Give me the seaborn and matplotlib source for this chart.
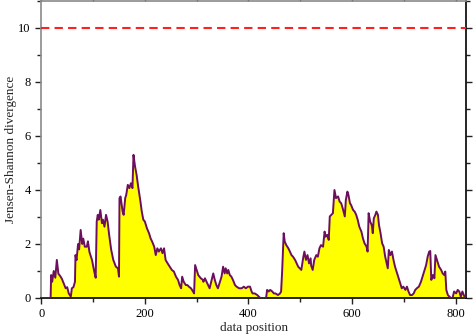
import matplotlib
matplotlib.use("Agg")
import matplotlib.pyplot as plt
import seaborn as sns
import pandas as pd
from matplotlib.ticker import MultipleLocator

position = [0, 18, 19, 21, 24, 27, 30, 33, 37, 40, 44, 47, 50, 53, 57, 59, 62, 65, 66, 68,
            71, 73, 76, 79, 81, 84, 88, 90, 93, 98, 102, 105, 107, 109, 111, 114, 117, 119, 122, 125,
            128, 131, 135, 139, 144, 148, 150, 151, 153, 157, 159, 162, 164, 167, 170, 173, 176, 178, 181, 184,
            187, 191, 194, 197, 200, 204, 208, 211, 214, 218, 221, 224, 227, 231, 234, 237, 240, 244, 248, 252,
            256, 260, 264, 267, 270, 272, 275, 279, 282, 285, 289, 293, 295, 297, 300, 303, 308, 312, 313, 316,
            319, 322, 325, 329, 332, 335, 338, 341, 345, 348, 351, 354, 356, 359, 361, 364, 367, 370, 374, 377,
            382, 387, 391, 395, 399, 403, 406, 408, 412, 417, 420, 423, 430, 434, 436, 439, 442, 446, 449, 452,
            457, 461, 463, 465, 468, 470, 473, 477, 480, 483, 486, 490, 493, 496, 499, 502, 506, 508, 511, 514,
            517, 520, 521, 524, 527, 531, 534, 537, 540, 544, 547, 549, 552, 555, 557, 560, 563, 566, 569, 573,
            576, 579, 582, 586, 588, 591, 593, 596, 598, 602, 605, 608, 611, 614, 618, 621, 624, 628, 630, 632,
            635, 638, 640, 642, 645, 647, 650, 652, 655, 658, 661, 664, 667, 669, 671, 674, 677, 680, 683, 687,
            690, 693, 696, 699, 703, 706, 709, 712, 716, 719, 722, 725, 729, 733, 736, 739, 743, 746, 749, 751,
            753, 756, 759, 761, 763, 766, 768, 772, 775, 778, 780, 782, 785, 788, 791, 794, 797, 801, 804, 807,
            810, 813, 817, 819]
divergence = [0, 0, 0.85, 0.6, 1.0, 0.75, 1.41, 0.9, 0.8, 0.7, 0.5, 0.36, 0.4, 0.17, 0.05, 0.36, 0.4, 0.6, 1.59, 1.4,
              2.0, 1.8, 2.52, 2.0, 2.2, 1.9, 1.9, 2.1, 1.7, 1.4, 1.0, 0.75, 2.83, 3.08, 2.9, 3.26, 2.77, 2.9, 2.64, 3.08,
              2.83, 2.34, 1.78, 1.41, 1.16, 1.1, 0.79, 3.7, 3.76, 3.2, 3.08, 3.7, 3.82, 4.19, 4.07, 4.25, 4.07, 5.3, 4.87, 4.56,
              4.13, 3.63, 3.2, 2.9, 2.83, 2.58, 2.4, 2.21, 2.09, 1.9, 1.59, 1.84, 1.72, 1.84, 1.66, 1.84, 1.41, 1.28, 1.16, 1.04,
              0.98, 0.79, 0.67, 0.48, 0.36, 0.79, 0.6, 0.48, 0.48, 0.42, 0.36, 0.24, 0.17, 1.22, 1.04, 0.85, 0.73, 0.67, 0.6, 0.73,
              0.6, 0.48, 0.36, 0.67, 0.91, 0.67, 0.48, 0.36, 0.6, 0.79, 1.16, 0.91, 1.1, 0.91, 1.04, 0.85, 0.79, 0.67, 0.48, 0.42,
              0.36, 0.36, 0.42, 0.36, 0.42, 0.42, 0.24, 0.17, 0.17, 0.11, 0.05, 0, 0, 0, 0.3, 0.24, 0.3, 0.24, 0.17, 0.17,
              0.11, 0.17, 0.24, 0.98, 2.4, 2.09, 1.96, 1.84, 1.72, 1.59, 1.53, 1.41, 1.28, 1.16, 1.1, 1.04, 1.53, 1.72, 1.41, 1.59,
              1.28, 1.47, 1.2, 1.04, 1.41, 1.59, 1.53, 1.84, 1.96, 1.9, 2.46, 2.27, 2.34, 2.15, 3.02, 3.08, 3.14, 4.0, 3.7, 3.76,
              3.57, 3.51, 3.32, 3.02, 3.63, 3.94, 3.82, 3.51, 3.45, 3.26, 3.2, 3.08, 2.89, 2.64, 2.46, 2.21, 2.03, 1.9, 1.72, 3.14,
              2.83, 2.7, 2.4, 2.95, 3.08, 3.2, 3.08, 2.7, 2.4, 2.03, 1.9, 1.53, 1.28, 1.1, 1.78, 1.59, 1.72, 1.41, 1.16, 0.91,
              0.73, 0.54, 0.36, 0.42, 0.3, 0.42, 0.24, 0.11, 0.11, 0.17, 0.3, 0.36, 0.42, 0.6, 0.79, 0.98, 1.22, 1.53, 1.72, 1.74,
              0.67, 0.85, 0.73, 1.59, 1.47, 1.28, 1.16, 1.04, 0.91, 0.85, 0.98, 0.3, 0.11, 0.05, 0, 0, 0.24, 0.17, 0.3, 0.24,
              0.05, 0.24, 0.05, 0]
threshold = 10
x_ticks = [0, 200, 400, 600, 800]
y_ticks = [0, 2, 4, 6, 8, 10]

sns.set_theme(style="ticks")
plt.rcParams['font.family'] = ['Liberation Serif', 'DejaVu Serif']

df = pd.DataFrame({"position": position, "divergence": divergence})

fig = plt.figure(figsize=(4.76, 3.36), dpi=100)
ax = fig.add_axes([41.3 / 476, 1 - 298 / 336, (466 - 41.3) / 476, 297 / 336])

ax.fill_between(df["position"], 0, df["divergence"], color="#ffff00", linewidth=0, zorder=2)
sns.lineplot(data=df, x="position", y="divergence", ax=ax, color="#6b0f5e",
             linewidth=1.4, zorder=3, sort=False)
ax.axhline(threshold, color="#ff2020", linestyle=(0, (4, 2.5)), linewidth=1.5, zorder=4)

ax.set_xlim(0, 820)
ax.set_ylim(0, 11)
ax.set_xticks(x_ticks)
ax.set_yticks(y_ticks)
ax.xaxis.set_minor_locator(MultipleLocator(100))
ax.yaxis.set_minor_locator(MultipleLocator(1))
ax.tick_params(which="both", direction="out", top=True, right=True, labelsize=9,
               colors="#222222", labelcolor="black")
ax.tick_params(which="major", length=4, width=1)
ax.tick_params(which="minor", length=3, width=1)

for side in ["left", "top"]:
    ax.spines[side].set_color("#8a8a8a")
for side in ["right", "bottom"]:
    ax.spines[side].set_color("black")
for s in ax.spines.values():
    s.set_linewidth(1.2)

ax.set_xlabel("data position", fontsize=9.5, labelpad=1)
ax.set_ylabel("Jensen-Shannon divergence", fontsize=9.5, labelpad=1)

fig.savefig("out.png", dpi=100)
